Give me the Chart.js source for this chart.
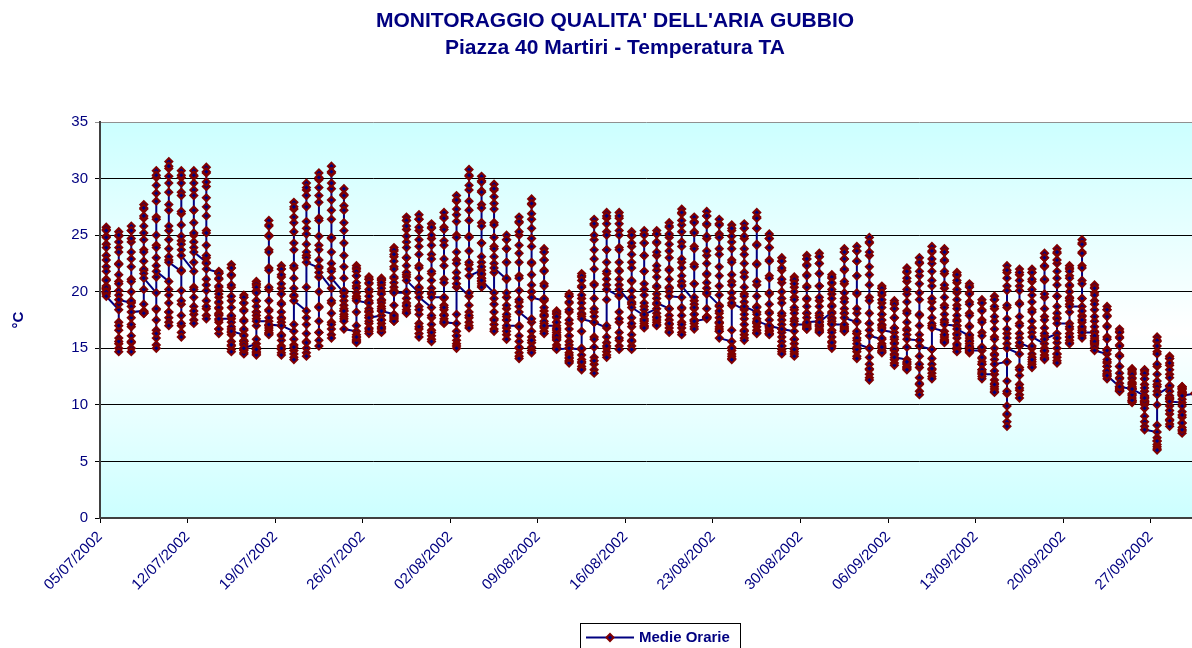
<!DOCTYPE html>
<html><head><meta charset="utf-8">
<script src="https://cdn.jsdelivr.net/npm/chart.js@4.4.0/dist/chart.umd.min.js"></script>
<style>html,body{margin:0;padding:0;background:#fff;overflow:hidden}canvas{display:block}</style>
</head><body>
<canvas id="c" width="1192" height="648"></canvas>
<script>
const titleLines = ["MONITORAGGIO QUALITA' DELL'ARIA GUBBIO", "Piazza 40 Martiri - Temperatura TA"];
const seriesName = 'Medie Orarie';
const yAxisTitle = '°C';
const weekLabels = ['05/07/2002','12/07/2002','19/07/2002','26/07/2002','02/08/2002','09/08/2002','16/08/2002','23/08/2002','30/08/2002','06/09/2002','13/09/2002','20/09/2002','27/09/2002'];
const yTicks = [0, 5, 10, 15, 20, 25, 30, 35];

// hourly averages (°C), one row of 24 hours per day
const julyTemps = [
[20.5,20.3,20.2,20.0,19.9,19.9,19.8,20.3,21.1,22.2,23.2,24.2,24.9,25.5,25.7,25.4,24.8,23.9,22.8,21.8,21.0,20.4,20.0,19.6],
[18.4,17.3,16.6,15.9,15.4,15.0,14.7,15.6,17.0,18.9,20.9,22.5,23.9,24.9,25.3,25.0,24.4,23.5,22.4,21.5,20.7,20.1,19.7,19.3],
[19.0,17.7,16.9,16.1,15.5,15.0,14.7,15.6,17.1,19.1,21.1,22.9,24.4,25.4,25.8,25.4,24.7,23.5,22.2,20.9,20.0,19.2,18.7,18.2],
[18.3,18.2,18.2,18.2,18.1,18.1,18.1,18.9,20.2,21.9,23.7,25.2,26.5,27.3,27.7,27.4,26.7,25.8,24.6,23.5,22.7,22.0,21.6,21.2],
[19.9,18.4,17.5,16.6,15.9,15.3,15.0,16.3,18.5,21.3,24.1,26.6,28.7,30.1,30.7,30.3,29.4,28.0,26.4,25.0,23.9,23.0,22.3,21.8],
[20.9,19.7,19.0,18.2,17.7,17.3,17.0,18.2,20.2,22.8,25.4,27.7,29.6,30.9,31.5,31.1,30.2,28.8,27.2,25.8,24.6,23.8,23.1,22.6],
[21.8,20.1,18.9,17.9,17.0,16.4,16.0,17.2,19.2,21.9,24.5,26.9,28.8,30.1,30.7,30.3,29.6,28.5,27.1,25.9,24.9,24.2,23.7,23.2],
[21.8,20.4,19.5,18.7,18.0,17.5,17.2,18.3,20.2,22.6,25.0,27.2,29.0,30.2,30.7,30.3,29.6,28.5,27.2,26.1,25.2,24.4,23.9,23.5],
[22.6,21.1,20.1,19.2,18.5,17.9,17.6,18.7,20.6,23.0,25.4,27.5,29.3,30.5,31.0,30.6,29.7,28.3,26.7,25.2,24.1,23.2,22.5,22.0],
[21.7,20.1,19.0,18.0,17.3,16.7,16.3,16.7,17.5,18.5,19.5,20.4,21.1,21.6,21.8,21.6,21.2,20.5,19.8,19.1,18.6,18.1,17.9,17.6],
[17.6,16.7,16.2,15.6,15.2,14.9,14.7,15.3,16.4,17.8,19.2,20.4,21.4,22.1,22.4,22.1,21.5,20.6,19.6,18.6,17.9,17.3,16.9,16.5],
[16.2,15.7,15.4,15.0,14.8,14.6,14.5,14.9,15.6,16.6,17.5,18.4,19.0,19.5,19.7,19.5,19.0,18.3,17.4,16.7,16.1,15.6,15.3,15.0],
[15.4,15.1,14.9,14.7,14.6,14.5,14.4,14.9,15.8,17.0,18.2,19.2,20.1,20.6,20.9,20.7,20.4,19.9,19.2,18.7,18.2,17.9,17.6,17.4],
[17.4,17.0,16.8,16.6,16.4,16.3,16.2,17.0,18.4,20.2,22.1,23.7,25.0,25.9,26.3,25.8,24.9,23.5,21.9,20.4,19.2,18.3,17.7,17.1],
[17.0,16.2,15.7,15.2,14.9,14.6,14.4,15.0,16.1,17.6,19.0,20.3,21.3,22.0,22.3,22.0,21.5,20.7,19.8,18.9,18.2,17.7,17.3,17.0],
[16.5,15.8,15.3,14.8,14.5,14.2,14.0,15.1,17.1,19.6,22.1,24.3,26.1,27.3,27.9,27.5,26.6,25.3,23.7,22.3,21.2,20.3,19.7,19.2],
[18.3,17.1,16.3,15.6,15.0,14.6,14.3,15.5,17.7,20.4,23.2,25.6,27.6,29.0,29.6,29.2,28.5,27.5,26.2,25.1,24.2,23.5,23.0,22.6],
[22.1,20.0,18.7,17.4,16.4,15.7,15.2,16.4,18.6,21.3,24.1,26.5,28.5,29.9,30.5,30.1,29.2,27.9,26.3,24.9,23.7,22.8,22.2,21.7],
[20.3,19.0,18.1,17.3,16.7,16.2,15.9,17.1,19.2,22.0,24.7,27.2,29.1,30.5,31.1,30.6,29.6,28.1,26.4,24.8,23.5,22.5,21.8,21.2],
[19.9,19.2,18.8,18.3,18.0,17.8,17.6,18.5,20.1,22.2,24.3,26.1,27.6,28.6,29.1,28.5,27.2,25.4,23.2,21.2,19.6,18.3,17.4,16.7],
[16.5,16.2,16.0,15.8,15.7,15.6,15.5,16.0,17.0,18.2,19.4,20.5,21.4,22.0,22.3,22.1,21.8,21.4,20.8,20.3,19.9,19.6,19.4,19.2],
[19.0,18.2,17.7,17.2,16.8,16.5,16.3,16.7,17.4,18.3,19.2,20.0,20.7,21.1,21.3,21.1,20.8,20.2,19.6,19.0,18.5,18.2,17.9,17.7],
[17.9,17.5,17.2,16.9,16.7,16.5,16.4,16.8,17.5,18.3,19.2,20.0,20.6,21.0,21.2,21.1,20.8,20.3,19.8,19.3,19.0,18.7,18.5,18.3],
[18.0,17.8,17.7,17.6,17.5,17.4,17.4,17.9,18.8,20.0,21.2,22.2,23.1,23.6,23.9,23.7,23.3,22.7,22.0,21.3,20.8,20.4,20.1,19.9],
[19.9,19.4,19.0,18.7,18.4,18.2,18.1,18.8,20.0,21.5,23.0,24.4,25.5,26.3,26.6,26.3,25.8,24.9,23.9,23.0,22.3,21.7,21.3,21.0],
[19.9,18.7,18.0,17.2,16.7,16.3,16.0,16.9,18.4,20.3,22.3,24.0,25.4,26.4,26.8,26.4,25.7,24.6,23.3,22.1,21.2,20.4,19.9,19.5],
[18.6,17.7,17.1,16.6,16.1,15.8,15.6,16.4,17.9,19.8,21.6,23.3,24.7,25.6,26.0,25.7,25.0,24.1,22.9,21.8,21.0,20.3,19.9,19.5]
];
const augustTemps = [
[19.5,18.8,18.4,17.9,17.6,17.4,17.2,18.0,19.4,21.1,22.9,24.5,25.7,26.6,27.0,26.5,25.5,24.1,22.3,20.8,19.5,18.6,17.9,17.3],
[17.2,16.5,16.1,15.7,15.4,15.2,15.0,16.1,18.0,20.4,22.8,25.0,26.8,28.0,28.5,28.1,27.3,26.2,24.8,23.5,22.5,21.7,21.2,20.7],
[19.6,18.8,18.2,17.7,17.3,17.0,16.8,17.9,19.9,22.4,24.9,27.2,29.0,30.2,30.8,30.3,29.4,28.0,26.3,24.8,23.6,22.6,22.0,21.4],
[21.9,21.5,21.2,20.9,20.7,20.5,20.4,21.2,22.6,24.3,26.1,27.7,28.9,29.8,30.2,29.7,28.8,27.4,25.8,24.3,23.1,22.2,21.6,21.0],
[19.9,18.9,18.2,17.6,17.1,16.7,16.5,17.5,19.4,21.7,24.0,26.1,27.8,29.0,29.5,29.1,28.4,27.3,25.9,24.8,23.8,23.1,22.5,22.1],
[21.1,19.5,18.5,17.5,16.8,16.2,15.8,16.5,17.8,19.5,21.1,22.6,23.8,24.6,25.0,24.6,23.8,22.6,21.2,19.9,18.8,18.0,17.5,17.0],
[17.0,16.1,15.6,15.0,14.6,14.3,14.1,15.1,16.9,19.1,21.4,23.4,25.0,26.1,26.6,26.2,25.3,24.1,22.6,21.2,20.1,19.3,18.7,18.2],
[17.3,16.5,16.0,15.5,15.1,14.8,14.6,15.7,17.6,20.0,22.5,24.7,26.4,27.7,28.2,27.8,26.9,25.6,24.0,22.6,21.5,20.6,20.0,19.5],
[19.2,18.3,17.8,17.2,16.8,16.5,16.3,16.9,18.0,19.3,20.7,21.9,22.8,23.5,23.8,23.5,22.8,21.8,20.5,19.4,18.6,17.9,17.4,17.0],
[17.0,16.6,16.4,16.2,16.0,15.9,15.8,16.0,16.4,16.8,17.3,17.7,18.0,18.2,18.3,18.1,17.8,17.3,16.7,16.1,15.7,15.3,15.1,14.9],
[15.0,14.6,14.4,14.1,13.9,13.8,13.7,14.2,15.0,16.1,17.2,18.2,19.0,19.6,19.8,19.6,19.1,18.4,17.5,16.7,16.1,15.6,15.3,15.0],
[14.9,14.4,14.0,13.7,13.4,13.2,13.1,13.8,15.0,16.5,18.0,19.4,20.5,21.3,21.6,21.4,21.0,20.4,19.7,19.0,18.5,18.1,17.8,17.6],
[17.3,16.0,15.1,14.2,13.6,13.1,12.8,13.9,15.8,18.2,20.7,22.9,24.6,25.9,26.4,26.0,25.0,23.7,22.0,20.6,19.4,18.5,17.8,17.3],
[16.8,16.0,15.5,15.0,14.7,14.4,14.2,15.2,17.0,19.3,21.6,23.7,25.3,26.5,27.0,26.7,26.0,25.0,23.7,22.6,21.8,21.1,20.6,20.2],
[19.6,18.2,17.3,16.4,15.7,15.2,14.9,15.9,17.6,19.7,21.9,23.9,25.4,26.5,27.0,26.7,26.0,25.0,23.7,22.6,21.8,21.1,20.6,20.2],
[18.9,17.7,16.9,16.2,15.6,15.2,14.9,15.7,17.2,19.1,20.9,22.6,24.0,24.9,25.3,25.0,24.3,23.3,22.1,21.0,20.1,19.5,19.0,18.6],
[17.9,17.6,17.4,17.2,17.0,16.9,16.8,17.5,18.7,20.2,21.8,23.2,24.3,25.1,25.4,25.0,24.3,23.2,21.8,20.7,19.7,19.0,18.4,18.0],
[18.5,18.1,17.8,17.5,17.3,17.1,17.0,17.7,18.9,20.4,21.9,23.2,24.3,25.1,25.4,25.1,24.4,23.5,22.3,21.3,20.5,19.8,19.4,19.0],
[18.5,17.9,17.5,17.1,16.8,16.5,16.4,17.2,18.5,20.3,22.0,23.6,24.8,25.7,26.1,25.8,25.1,24.2,23.0,21.9,21.1,20.4,20.0,19.6],
[19.5,18.5,17.9,17.3,16.8,16.4,16.2,17.1,18.6,20.6,22.6,24.4,25.9,26.9,27.3,27.0,26.3,25.3,24.0,22.9,22.1,21.4,20.9,20.5],
[19.2,18.5,18.0,17.5,17.2,16.9,16.7,17.5,18.9,20.7,22.4,24.0,25.3,26.2,26.6,26.1,25.2,23.8,22.2,20.7,19.5,18.6,18.0,17.4],
[17.6,17.7,17.8,17.8,17.7,17.7,17.7,18.5,19.8,21.5,23.2,24.7,25.9,26.7,27.1,26.7,26.0,24.9,23.6,22.5,21.6,20.8,20.3,19.9],
[18.8,18.1,17.7,17.2,16.9,16.7,16.5,17.3,18.7,20.5,22.2,23.8,25.1,26.0,26.4,25.9,24.8,23.3,21.4,19.7,18.3,17.3,16.5,15.9],
[15.6,15.1,14.8,14.5,14.3,14.1,14.0,15.0,16.6,18.8,20.9,22.8,24.4,25.4,25.9,25.6,24.9,23.8,22.6,21.5,20.6,19.9,19.4,19.0],
[18.4,17.6,17.1,16.6,16.2,15.9,15.7,16.5,18.0,19.8,21.7,23.3,24.7,25.6,26.0,25.6,24.9,23.8,22.5,21.3,20.4,19.6,19.1,18.7],
[18.2,17.6,17.3,16.9,16.6,16.4,16.3,17.2,18.7,20.6,22.5,24.2,25.6,26.6,27.0,26.5,25.6,24.1,22.4,20.9,19.6,18.6,18.0,17.4],
[17.0,16.8,16.6,16.5,16.3,16.3,16.2,16.9,18.2,19.8,21.4,22.8,23.9,24.7,25.1,24.7,23.9,22.7,21.2,19.9,18.9,18.1,17.5,17.0],
[16.7,16.0,15.6,15.2,14.9,14.7,14.5,15.2,16.4,17.9,19.4,20.8,21.9,22.7,23.0,22.7,22.1,21.1,20.0,19.0,18.1,17.5,17.1,16.7],
[16.5,15.8,15.4,15.0,14.7,14.5,14.3,14.9,15.8,17.1,18.4,19.5,20.4,21.0,21.3,21.1,20.7,20.0,19.3,18.6,18.1,17.6,17.4,17.1],
[17.1,17.0,16.9,16.8,16.8,16.7,16.7,17.2,18.1,19.3,20.5,21.5,22.4,22.9,23.2,22.9,22.3,21.4,20.4,19.4,18.7,18.1,17.7,17.3],
[17.4,17.1,16.9,16.7,16.6,16.5,16.4,17.0,17.9,19.2,20.5,21.6,22.5,23.1,23.4,23.1,22.5,21.6,20.5,19.5,18.7,18.1,17.7,17.3]
];
const septemberTemps = [
[18.2,17.2,16.6,16.0,15.6,15.2,15.0,15.5,16.4,17.6,18.8,19.8,20.7,21.2,21.5,21.3,20.8,20.2,19.4,18.7,18.1,17.7,17.4,17.1],
[17.1,16.9,16.8,16.7,16.6,16.5,16.5,17.1,18.1,19.4,20.7,21.9,22.9,23.5,23.8,23.5,22.9,22.0,20.9,19.9,19.1,18.5,18.1,17.7],
[17.3,16.3,15.7,15.1,14.7,14.3,14.1,14.9,16.3,18.1,19.8,21.4,22.7,23.6,24.0,23.6,22.7,21.4,19.9,18.5,17.4,16.5,15.9,15.4],
[15.0,14.2,13.6,13.1,12.7,12.4,12.2,13.2,15.0,17.2,19.5,21.5,23.2,24.3,24.8,24.4,23.5,22.2,20.6,19.2,18.1,17.2,16.6,16.1],
[15.8,15.4,15.2,15.0,14.8,14.7,14.6,15.1,15.9,17.0,18.0,19.0,19.7,20.3,20.5,20.3,19.9,19.3,18.6,18.0,17.5,17.1,16.8,16.6],
[16.4,15.5,15.0,14.4,14.0,13.7,13.5,14.0,14.8,15.8,16.8,17.7,18.5,19.0,19.2,18.9,18.5,17.7,16.8,16.0,15.4,14.9,14.5,14.2],
[14.0,13.7,13.6,13.4,13.3,13.2,13.1,13.8,15.1,16.7,18.3,19.8,20.9,21.7,22.1,21.8,21.2,20.2,19.1,18.1,17.3,16.6,16.2,15.8],
[15.7,14.3,13.3,12.4,11.8,11.2,10.9,11.9,13.6,15.7,17.9,19.9,21.4,22.5,23.0,22.6,21.8,20.7,19.3,18.0,17.0,16.2,15.7,15.2],
[14.9,14.1,13.6,13.1,12.8,12.5,12.3,13.2,14.9,17.0,19.1,21.0,22.5,23.5,24.0,23.6,22.9,21.8,20.5,19.4,18.5,17.7,17.2,16.8],
[16.5,16.2,16.0,15.8,15.7,15.6,15.5,16.2,17.3,18.8,20.3,21.6,22.7,23.5,23.8,23.5,22.8,21.8,20.6,19.5,18.6,18.0,17.5,17.1],
[17.0,16.3,15.9,15.4,15.1,14.9,14.7,15.3,16.2,17.5,18.8,19.9,20.8,21.4,21.7,21.5,21.0,20.2,19.3,18.5,17.9,17.4,17.0,16.7],
[16.1,15.7,15.4,15.1,14.9,14.7,14.6,15.1,15.9,17.0,18.1,19.1,19.9,20.5,20.7,20.4,19.8,18.9,17.9,16.9,16.2,15.6,15.2,14.8],
[14.8,14.1,13.6,13.1,12.8,12.5,12.3,12.9,13.8,15.1,16.4,17.5,18.4,19.0,19.3,19.0,18.3,17.3,16.1,15.1,14.2,13.6,13.1,12.7],
[12.7,12.2,11.9,11.6,11.4,11.2,11.1,11.8,13.0,14.5,16.0,17.4,18.5,19.3,19.6,19.3,18.7,17.8,16.7,15.8,15.0,14.4,14.0,13.6],
[13.8,12.1,11.0,9.9,9.1,8.5,8.1,9.2,11.2,13.8,16.3,18.6,20.5,21.7,22.3,21.9,21.2,20.1,18.8,17.6,16.7,15.9,15.4,15.0],
[14.5,13.3,12.6,11.8,11.3,10.9,10.6,11.5,13.1,15.2,17.2,19.0,20.5,21.5,22.0,21.7,21.0,20.1,18.9,17.8,17.0,16.3,15.9,15.5],
[15.0,14.5,14.2,13.8,13.6,13.4,13.3,14.0,15.2,16.8,18.4,19.7,20.9,21.7,22.0,21.7,21.1,20.2,19.1,18.2,17.4,16.8,16.4,16.0],
[15.4,15.0,14.7,14.4,14.2,14.1,14.0,14.8,16.1,17.8,19.5,21.0,22.2,23.0,23.4,23.0,22.3,21.1,19.8,18.5,17.5,16.8,16.3,15.8],
[16.3,15.5,15.0,14.5,14.2,13.9,13.7,14.5,15.9,17.7,19.6,21.2,22.5,23.4,23.8,23.5,22.8,21.8,20.6,19.6,18.7,18.1,17.6,17.2],
[17.2,16.7,16.3,16.0,15.7,15.5,15.4,16.0,16.9,18.2,19.4,20.5,21.4,22.0,22.3,22.1,21.8,21.2,20.6,20.0,19.5,19.2,18.9,18.7],
[18.7,17.9,17.3,16.8,16.4,16.1,15.9,16.6,17.8,19.4,21.0,22.3,23.5,24.3,24.6,24.2,23.4,22.1,20.7,19.4,18.3,17.5,16.9,16.4],
[16.4,16.1,15.9,15.7,15.5,15.4,15.3,15.7,16.5,17.4,18.4,19.2,19.9,20.4,20.6,20.3,19.7,18.9,17.8,16.9,16.1,15.6,15.1,14.8],
[14.5,13.8,13.4,13.0,12.7,12.5,12.3,12.8,13.7,14.9,16.0,17.0,17.9,18.4,18.7,18.4,17.8,16.9,15.8,14.8,14.0,13.4,13.0,12.6],
[11.6,11.5,11.4,11.3,11.3,11.2,11.2,11.6,12.4,13.4,14.4,15.3,16.0,16.5,16.7,16.4,15.9,15.2,14.3,13.4,12.8,12.3,11.9,11.6],
[11.4,11.0,10.8,10.6,10.4,10.3,10.2,10.4,10.9,11.4,11.9,12.4,12.8,13.1,13.2,13.1,12.9,12.7,12.3,12.0,11.8,11.6,11.5,11.4],
[10.8,10.6,10.4,10.3,10.2,10.1,10.0,10.3,10.7,11.2,11.8,12.3,12.7,13.0,13.1,12.8,12.3,11.5,10.6,9.7,9.0,8.5,8.1,7.8],
[7.6,7.1,6.8,6.5,6.3,6.1,6.0,6.8,8.2,10.0,11.8,13.4,14.7,15.6,16.0,15.7,15.2,14.5,13.6,12.7,12.1,11.6,11.2,10.9],
[11.6,10.6,9.9,9.2,8.7,8.3,8.1,8.6,9.5,10.6,11.7,12.7,13.5,14.1,14.3,14.1,13.7,13.1,12.4,11.7,11.2,10.8,10.5,10.3],
[10.2,9.4,8.9,8.4,8.0,7.7,7.5,7.8,8.4,9.1,9.9,10.5,11.1,11.4,11.6,11.6,11.5,11.4,11.2,11.1,11.0,10.9,10.9,10.8],
[11.0,10.9,10.8,10.6,10.5,10.4,10.4,10.6,10.9,11.2]
];

const dailyHours = [...julyTemps, ...augustTemps, ...septemberTemps];
const points = [];
dailyHours.forEach((hours, day) => hours.forEach(v => points.push({x: day, y: v})));

const FONT = "'Liberation Sans', Arial, Helvetica, sans-serif";
const NAVY = '#000080';
const MAROON = '#800000';

const decor = {
  id: 'decor',
  beforeDraw(chart) {
    const {ctx, chartArea: a} = chart;
    const g = ctx.createLinearGradient(0, a.top, 0, a.bottom);
    g.addColorStop(0, '#CCFFFF');
    g.addColorStop(0.53, '#FFFFFF');
    g.addColorStop(1, '#CCFFFF');
    ctx.save();
    ctx.fillStyle = g;
    ctx.fillRect(a.left, a.top, a.right - a.left, a.bottom - a.top);
    ctx.restore();
  },
  afterDraw(chart) {
    const ctx = chart.ctx;
    ctx.save();
    ctx.fillStyle = NAVY;
    ctx.textAlign = 'center';
    ctx.textBaseline = 'alphabetic';
    ctx.font = 'bold 21px ' + FONT;
    ctx.fillText(titleLines[0], 615, 27);
    ctx.fillText(titleLines[1], 615, 54);
    // legend box
    ctx.strokeStyle = '#000000';
    ctx.lineWidth = 1;
    ctx.strokeRect(580.5, 623.5, 160, 40);
    ctx.strokeStyle = NAVY;
    ctx.lineWidth = 2;
    ctx.beginPath(); ctx.moveTo(586, 637.5); ctx.lineTo(634, 637.5); ctx.stroke();
    ctx.beginPath();
    ctx.moveTo(610 - 3.5, 637.5); ctx.lineTo(610, 634); ctx.lineTo(613.5, 637.5); ctx.lineTo(610, 641); ctx.closePath();
    ctx.fillStyle = NAVY; ctx.fill();
    ctx.strokeStyle = MAROON; ctx.stroke();
    ctx.fillStyle = NAVY;
    ctx.textAlign = 'left';
    ctx.font = 'bold 15px ' + FONT;
    ctx.fillText(seriesName, 639, 642);
    ctx.restore();
  }
};

new Chart(document.getElementById('c'), {
  type: 'line',
  data: {
    datasets: [{
      label: seriesName,
      data: points,
      borderColor: NAVY,
      borderWidth: 2,
      tension: 0,
      pointStyle: 'rectRot',
      pointRadius: 3.5,
      pointHoverRadius: 3.5,
      pointBackgroundColor: NAVY,
      pointBorderColor: MAROON,
      pointBorderWidth: 2,
      clip: false
    }]
  },
  options: {
    responsive: false,
    animation: false,
    devicePixelRatio: 1,
    events: [],
    layout: { autoPadding: false, padding: { top: 122, left: 0, right: 0, bottom: 0 } },
    plugins: { legend: { display: false }, title: { display: false }, tooltip: { enabled: false } },
    scales: {
      x: {
        type: 'linear', min: -0.5, max: 86.79, bounds: 'data',
        afterBuildTicks: s => { s.ticks = weekLabels.map((_, i) => ({ value: i * 7 - 0.5 })); },
        afterFit: s => { s.height = 130; s.paddingLeft = 0; s.paddingRight = 0; },
        ticks: { autoSkip: false, minRotation: 45, maxRotation: 45, color: NAVY, padding: 5,
          font: { family: FONT, size: 15 }, callback: (v, i) => weekLabels[i] },
        grid: { drawOnChartArea: false, drawTicks: true, tickLength: 5, color: '#000000' },
        border: { color: '#404040', width: 2 }
      },
      y: {
        min: 0, max: 35,
        afterBuildTicks: s => { s.ticks = yTicks.map(v => ({ value: v })); },
        afterFit: s => { s.width = 100; s.paddingTop = 0; s.paddingBottom = 0; },
        ticks: { color: NAVY, padding: 7, font: { family: FONT, size: 15 } },
        grid: { color: c => (c.tick && c.tick.value === 35) ? '#909090' : '#000000', tickLength: 5, lineWidth: 1 },
        border: { color: '#404040', width: 2 },
        title: { display: true, text: yAxisTitle, color: NAVY, padding: { top: 10, bottom: 0 },
          font: { family: FONT, size: 15, weight: 'bold' } }
      }
    }
  },
  plugins: [decor]
});
</script>
</body></html>
